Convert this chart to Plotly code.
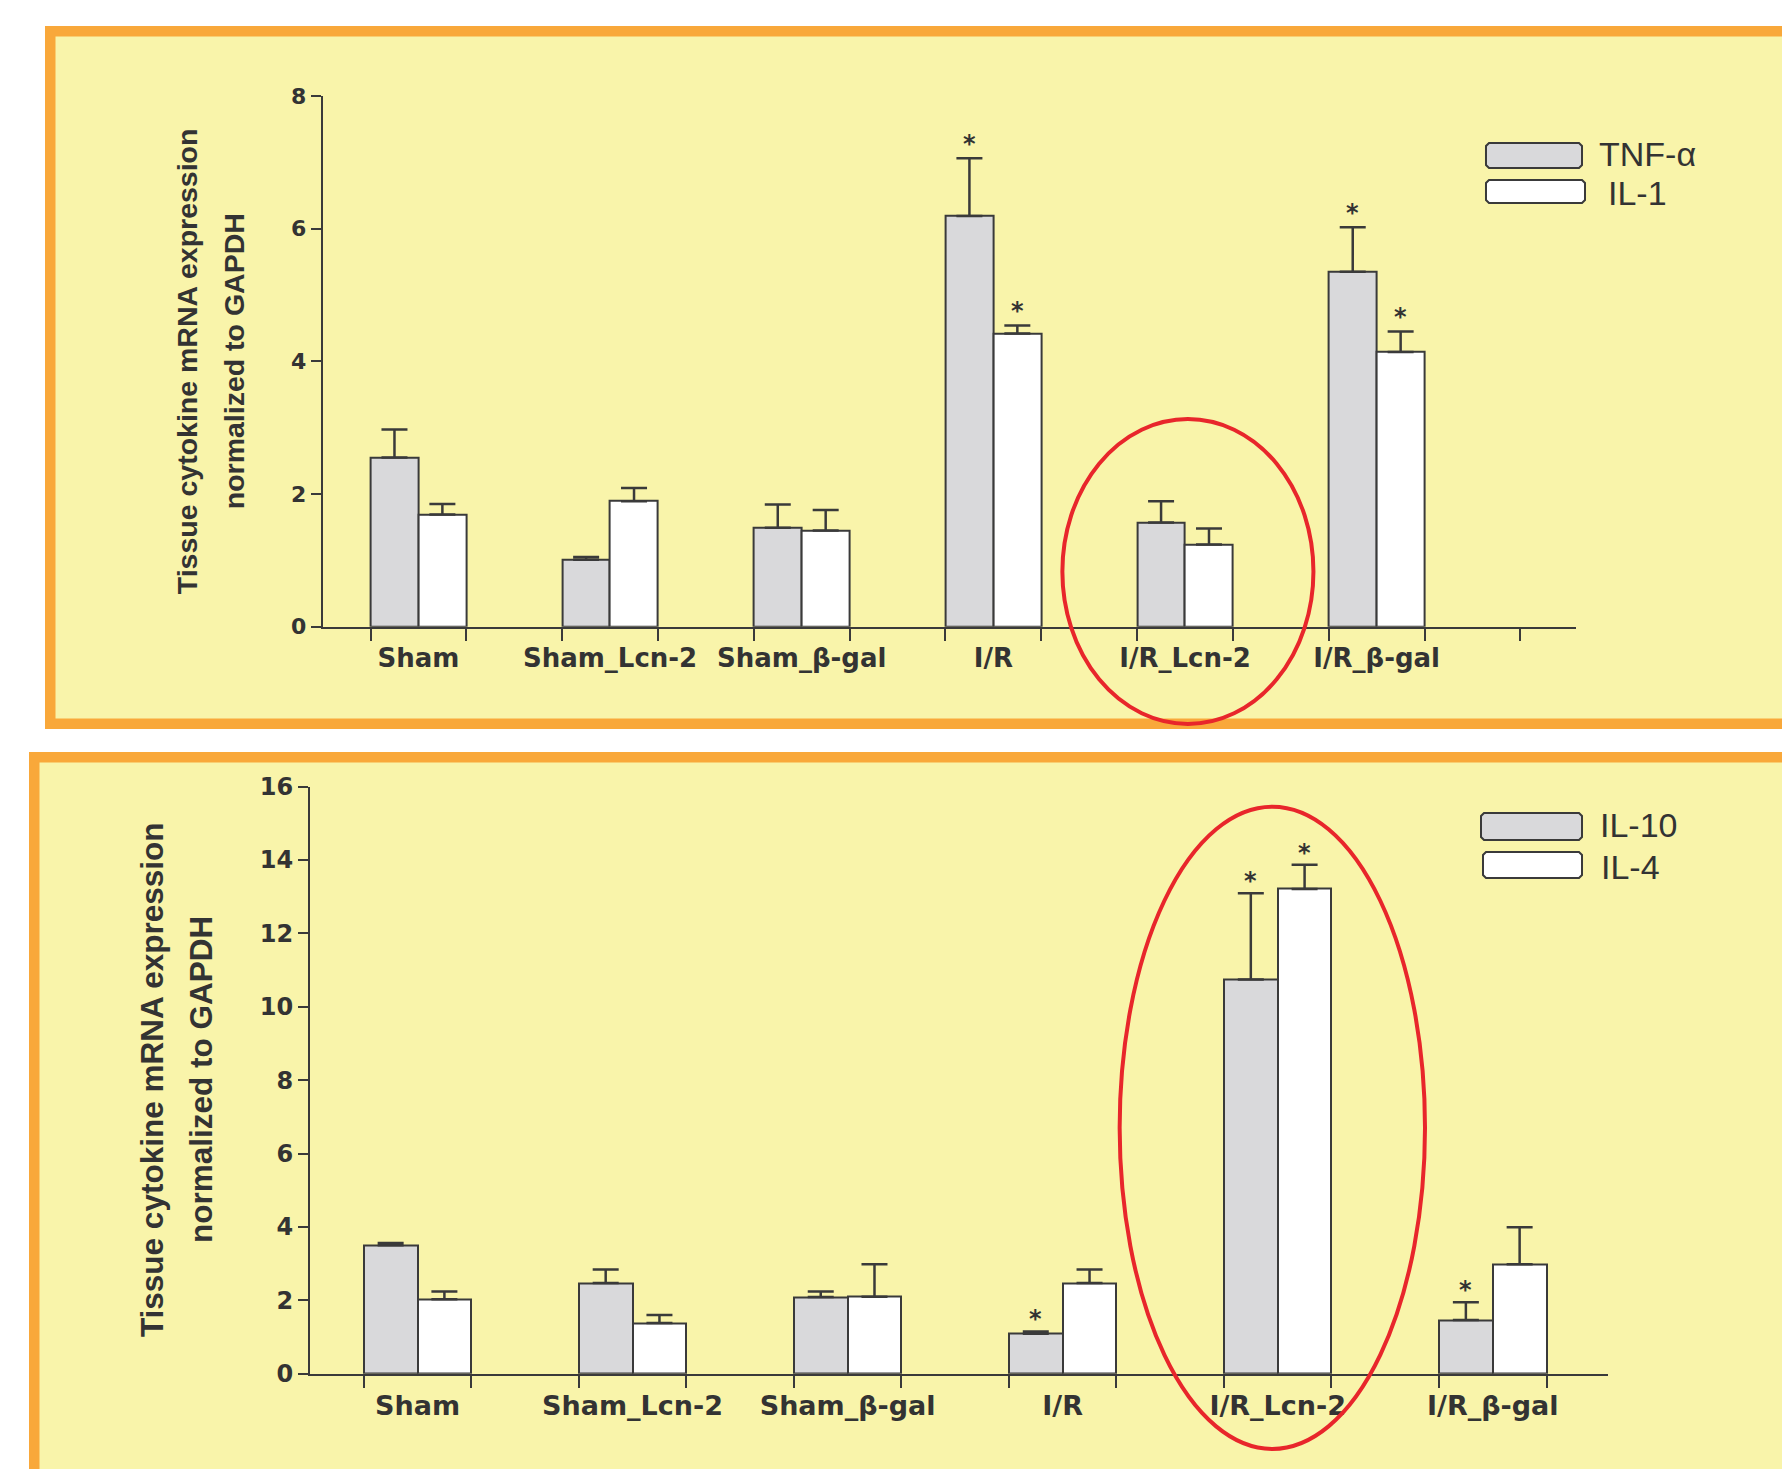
import plotly.graph_objects as go

W, H = 1782, 1469

# ---------------- data ----------------
groups = ["Sham", "Sham_Lcn-2", "Sham_β-gal", "I/R", "I/R_Lcn-2", "I/R_β-gal"]

# pro-inflammatory panel
tnf_alpha = [2.55, 1.01, 1.49, 6.19, 1.57, 5.35]
tnf_alpha_sem = [0.42, 0.04, 0.35, 0.87, 0.32, 0.67]
il_1 = [1.69, 1.89, 1.45, 4.42, 1.24, 4.14]
il_1_sem = [0.16, 0.20, 0.31, 0.12, 0.24, 0.31]
tnf_alpha_sig = [False, False, False, True, False, True]
il_1_sig = [False, False, False, True, False, True]

# anti-inflammatory panel
il_10 = [3.50, 2.47, 2.09, 1.09, 10.74, 1.46]
il_10_sem = [0.06, 0.37, 0.15, 0.06, 2.35, 0.49]
il_4 = [2.03, 1.38, 2.10, 2.47, 13.21, 2.98]
il_4_sem = [0.21, 0.22, 0.88, 0.37, 0.66, 1.01]
il_10_sig = [False, False, False, True, True, True]
il_4_sig = [False, False, False, False, True, False]

y_ticks_top = [0, 2, 4, 6, 8]
y_ticks_bottom = [0, 2, 4, 6, 8, 10, 12, 14, 16]

y_title_1 = "Tissue cytokine mRNA expression"
y_title_2 = "normalized to GAPDH"

# ---------------- style ----------------
INK = "#3a3a3a"
TXT = "#333333"
GRAY = "#d9d9db"
WHITE = "#ffffff"
PANEL_FILL = "#f9f4aa"
PANEL_EDGE = "#f9a83a"
RED = "#e8262b"
TICK_FONT = "DejaVu Sans"
LABEL_FONT = "Liberation Sans, Arial, sans-serif"


def px_x(p):
    return p / W


def px_y(p):
    return 1 - p / H


def to_paper(domain, rng, v):
    return domain[0] + (v - rng[0]) / (rng[1] - rng[0]) * (domain[1] - domain[0])


panels = [
    dict(
        xa="x", ya="y",
        xdom=[px_x(322.6), px_x(1576.0)], ydom=[px_y(626.7), px_y(95.8)],
        xrange=[0, 13.08], yrange=[0, 8], yticks=y_ticks_top, n_minor=13,
        a=tnf_alpha, a_sem=tnf_alpha_sem, a_sig=tnf_alpha_sig, a_name="TNF-α",
        b=il_1, b_sem=il_1_sem, b_sig=il_1_sig, b_name="IL-1",
        tick_size=22, label_size=26, label_pad=7, title_size=28.5,
        title_x=(187, 234), star_shift=-2,
        ellipse=dict(cx=9.03, hw=1.31, y0=-1.466, y1=3.13),
        keys=[(1486, 143, 1582, 168, 1598, 153.5), (1486, 180, 1585, 203, 1607, 193.5)],
        panel=(50.25, 31.25, 1850, 723.75),
    ),
    dict(
        xa="x2", ya="y2",
        xdom=[px_x(310.0), px_x(1607.8)], ydom=[px_y(1373.7), px_y(786.5)],
        xrange=[0, 12.07], yrange=[0, 16], yticks=y_ticks_bottom, n_minor=12,
        a=il_10, a_sem=il_10_sem, a_sig=il_10_sig, a_name="IL-10",
        b=il_4, b_sem=il_4_sem, b_sig=il_4_sig, b_name="IL-4",
        tick_size=24, label_size=27, label_pad=7, title_size=31.5,
        title_x=(152, 201), star_shift=-4,
        ellipse=dict(cx=8.95, hw=1.42, y0=-2.05, y1=15.45),
        keys=[(1481, 813, 1582, 840, 1599, 824.5), (1483, 852, 1582, 878, 1600, 867)],
        panel=(34.25, 757.25, 1850, 1520),
    ),
]

fig = go.Figure()
shapes = []
annotations = []
layout_axes = {}

for k, p in enumerate(panels):
    n = len(groups)
    pos_a = [2 * i + 0.75 for i in range(n)]
    pos_b = [2 * i + 1.25 for i in range(n)]
    centers = [2 * i + 1.0 for i in range(n)]

    for pos, vals, sem, fill in ((pos_a, p["a"], p["a_sem"], GRAY),
                                 (pos_b, p["b"], p["b_sem"], WHITE)):
        fig.add_trace(go.Bar(
            x=pos, y=vals, width=0.5,
            marker=dict(color=fill, line=dict(color=INK, width=2)),
            error_y=dict(type="data", array=sem, arrayminus=[0] * n,
                         symmetric=False, color=INK, thickness=2.5, width=13),
            xaxis=p["xa"], yaxis=p["ya"], showlegend=False,
            hoverinfo="skip",
        ))

    # significance stars above the error caps
    for pos, vals, sem, sig in ((pos_a, p["a"], p["a_sem"], p["a_sig"]),
                                (pos_b, p["b"], p["b_sem"], p["b_sig"])):
        for xi, v, e, s in zip(pos, vals, sem, sig):
            if s:
                annotations.append(dict(
                    x=xi, y=v + e, xref=p["xa"], yref=p["ya"], text="*",
                    showarrow=False, yanchor="bottom", yshift=p["star_shift"],
                    font=dict(family=TICK_FONT, size=24, color=TXT, weight="bold"),
                ))

    suffix = "" if k == 0 else str(k + 1)
    layout_axes["xaxis" + suffix] = dict(
        domain=p["xdom"], range=p["xrange"], anchor=p["ya"], automargin=False,
        showline=True, linecolor=INK, linewidth=2,
        showgrid=False, zeroline=False, fixedrange=True,
        tickmode="array", tickvals=centers, ticktext=groups,
        ticks="outside", ticklen=p["label_pad"], tickwidth=2, tickcolor="rgba(0,0,0,0)",
        tickfont=dict(family=TICK_FONT, size=p["label_size"], color=TXT, weight="bold"),
        minor=dict(tickmode="array", tickvals=[j + 0.5 for j in range(p["n_minor"])],
                   ticks="outside", ticklen=12, tickwidth=2, tickcolor=INK,
                   showgrid=False),
    )
    layout_axes["yaxis" + suffix] = dict(
        domain=p["ydom"], range=p["yrange"], anchor=p["xa"], automargin=False,
        showline=True, linecolor=INK, linewidth=2,
        showgrid=False, zeroline=False, fixedrange=True,
        tickmode="array", tickvals=p["yticks"],
        ticks="outside", ticklen=10, tickwidth=2, tickcolor=INK,
        tickfont=dict(family=TICK_FONT, size=p["tick_size"], color=TXT, weight="bold"),
    )

    # axis title, two rotated lines
    for line_text, xc in zip((y_title_1, y_title_2), p["title_x"]):
        annotations.append(dict(
            x=px_x(xc), y=0.5, xref="paper", yref=p["ya"] + " domain",
            text=line_text, textangle=-90, showarrow=False,
            xanchor="center", yanchor="middle",
            font=dict(family=LABEL_FONT, size=p["title_size"], color=TXT, weight="bold"),
        ))

    # framed panel background
    x0, y0, x1, y1 = p["panel"]
    shapes.append(dict(
        type="rect", xref="paper", yref="paper", layer="below",
        x0=px_x(x0), x1=px_x(x1), y0=px_y(y1), y1=px_y(y0),
        fillcolor=PANEL_FILL, line=dict(color=PANEL_EDGE, width=10.5),
    ))

    # highlight ellipse around the Lcn-2 treated I/R group
    el = p["ellipse"]
    shapes.append(dict(
        type="circle", xref="paper", yref="paper", layer="above",
        x0=to_paper(p["xdom"], p["xrange"], el["cx"] - el["hw"]),
        x1=to_paper(p["xdom"], p["xrange"], el["cx"] + el["hw"]),
        y0=to_paper(p["ydom"], p["yrange"], el["y0"]),
        y1=to_paper(p["ydom"], p["yrange"], el["y1"]),
        line=dict(color=RED, width=4),
    ))

    # legend keys
    for (kx0, ky0, kx1, ky1, tx, ty), fill, name in zip(
            p["keys"], (GRAY, WHITE), (p["a_name"], p["b_name"])):
        c = 3
        pts = [(kx0 + c, ky0), (kx1 - c, ky0), (kx1, ky0 + c), (kx1, ky1 - c),
               (kx1 - c, ky1), (kx0 + c, ky1), (kx0, ky1 - c), (kx0, ky0 + c)]
        path = "M " + " L ".join(f"{px_x(a):.5f},{px_y(b):.5f}" for a, b in pts) + " Z"
        shapes.append(dict(type="path", xref="paper", yref="paper", path=path,
                           fillcolor=fill, line=dict(color=INK, width=2)))
        annotations.append(dict(
            x=px_x(tx), y=px_y(ty), xref="paper", yref="paper", text=name,
            showarrow=False, xanchor="left", yanchor="middle", borderpad=0,
            font=dict(family=LABEL_FONT, size=34, color=TXT),
        ))

fig.update_layout(
    width=W, height=H,
    margin=dict(l=0, r=0, t=0, b=0, pad=0, autoexpand=False),
    paper_bgcolor="white", plot_bgcolor="rgba(0,0,0,0)",
    barmode="overlay", bargap=0,
    shapes=shapes, annotations=annotations,
    showlegend=False,
    **layout_axes,
)

fig.write_html("out.html")
